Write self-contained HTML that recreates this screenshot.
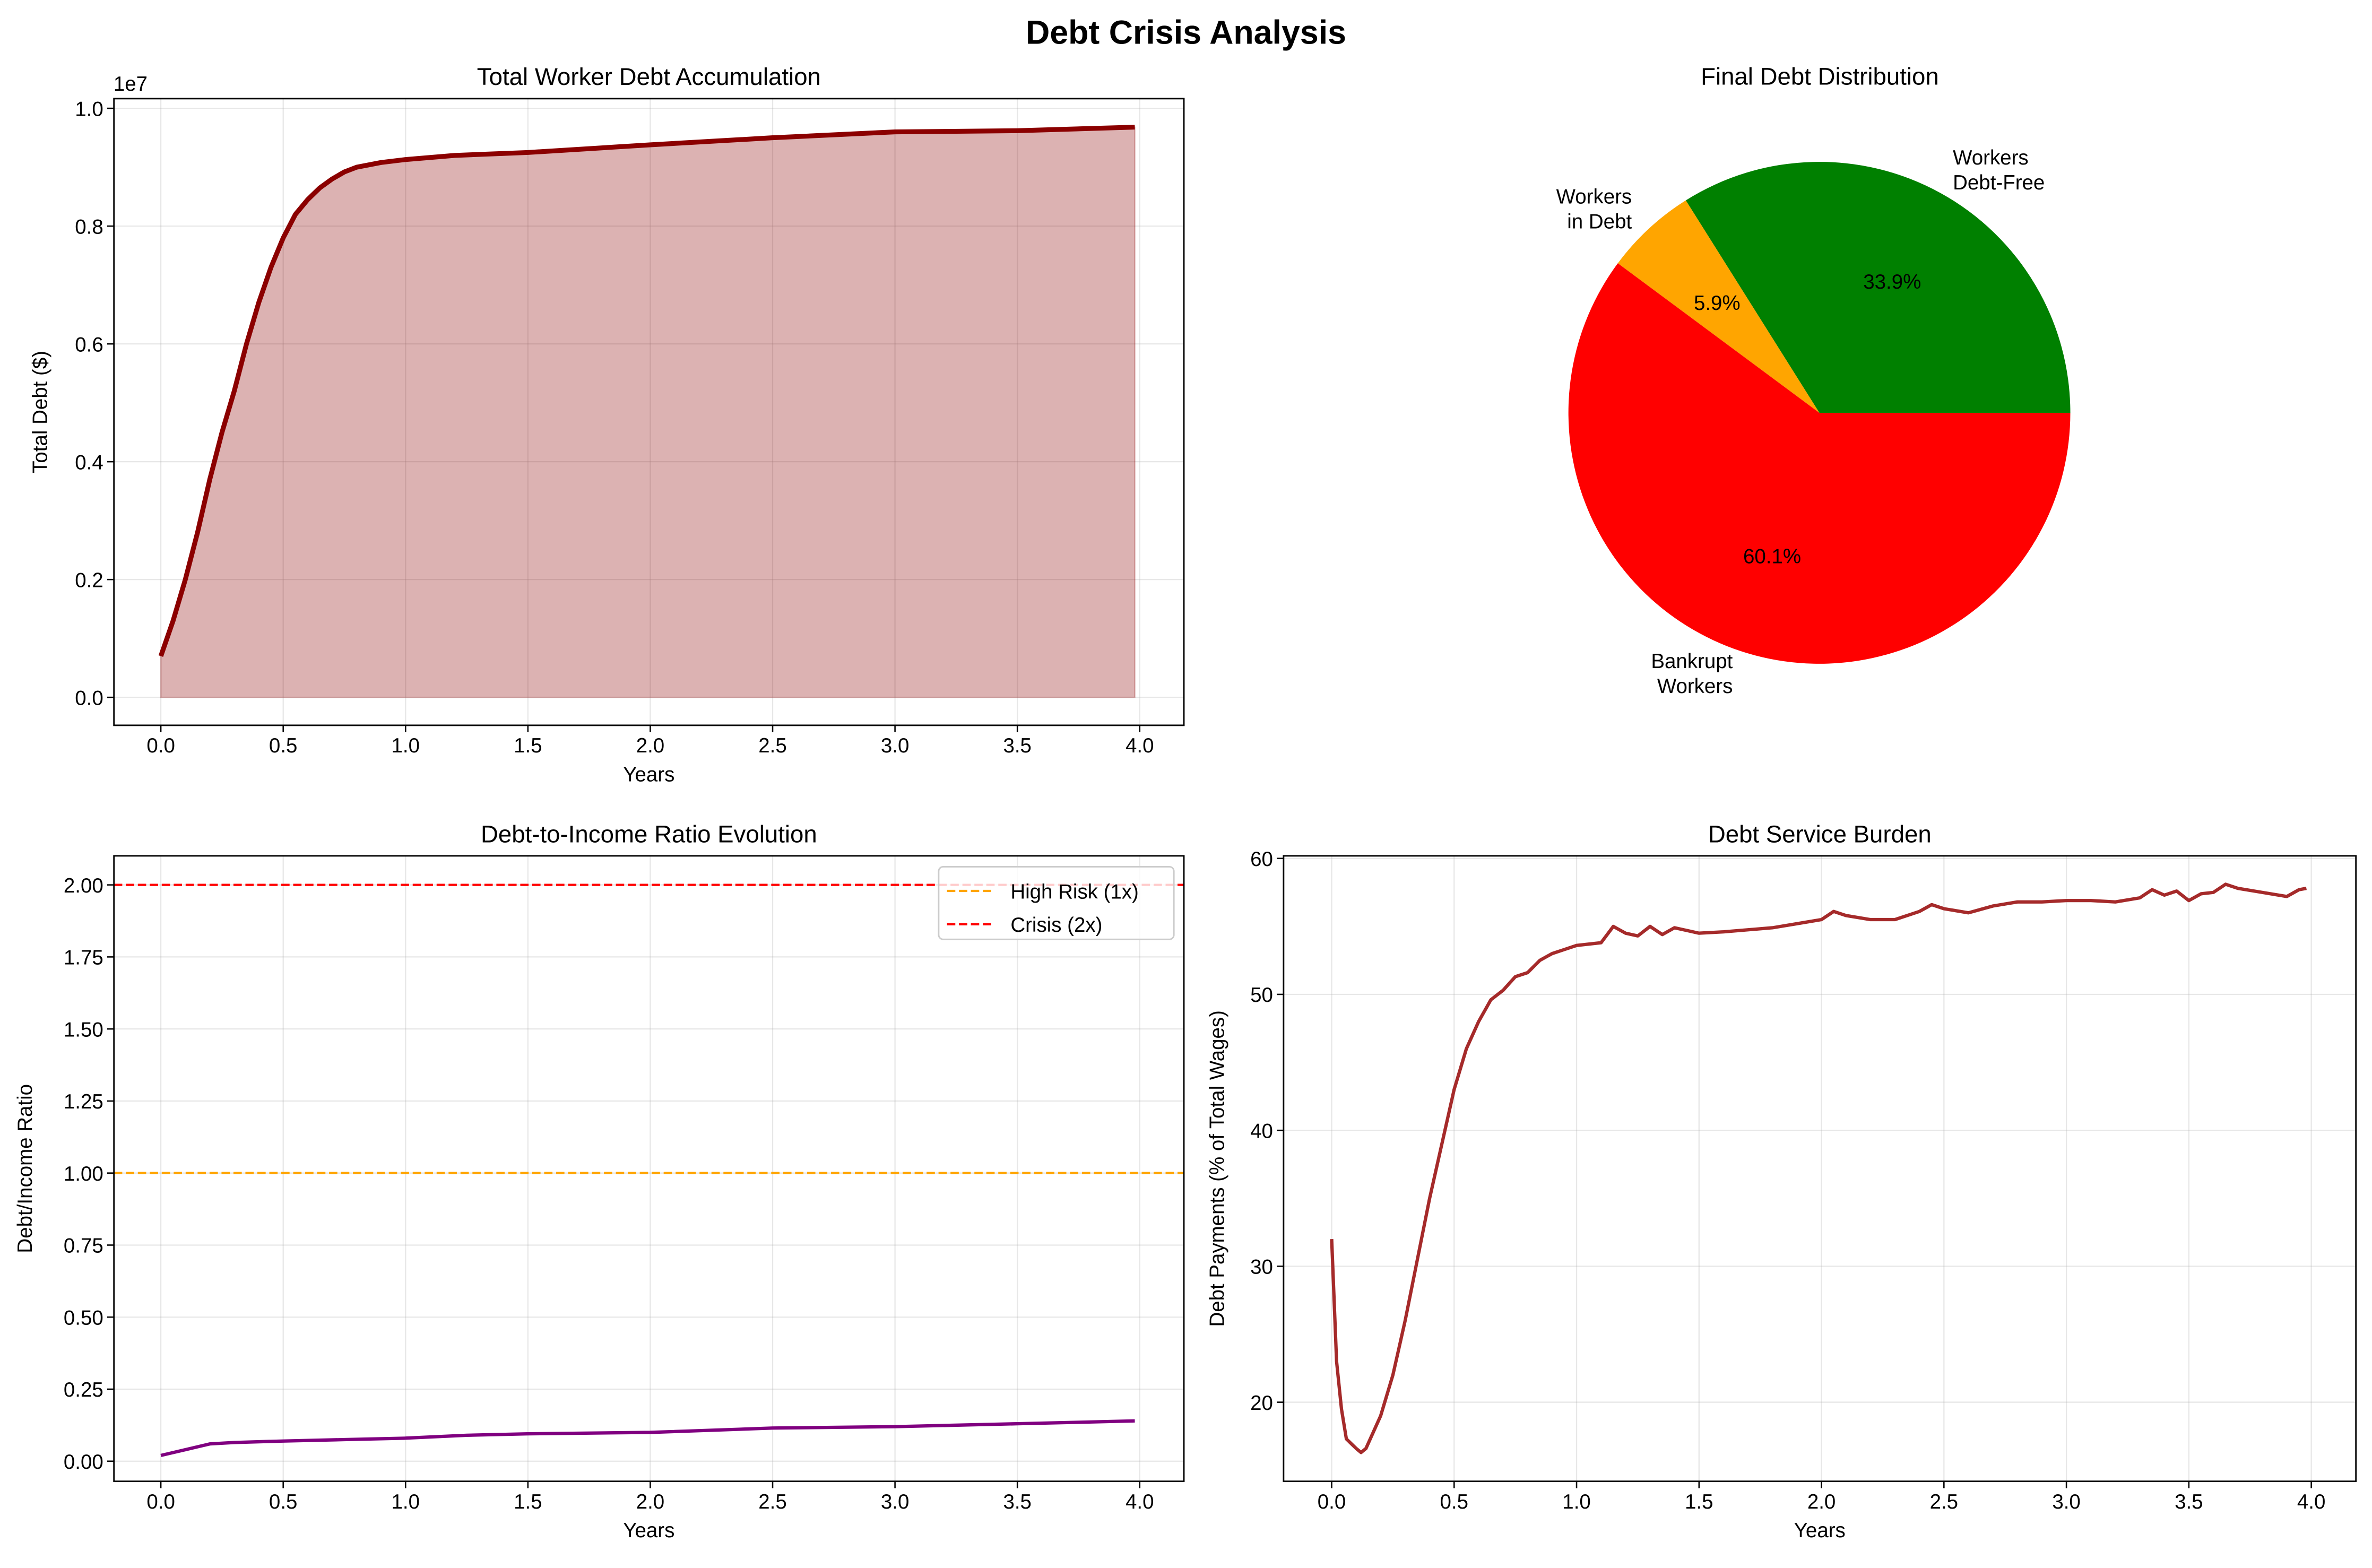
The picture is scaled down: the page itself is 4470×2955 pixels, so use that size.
<!DOCTYPE html>
<html><head><meta charset="utf-8"><style>
html,body{margin:0;padding:0;background:#fff}
svg{display:block}
text{font-family:"Liberation Sans","DejaVu Sans",sans-serif;fill:#000}
</style></head><body>
<svg id="fig" xmlns="http://www.w3.org/2000/svg" width="4470" height="2955" viewBox="0 0 1568 1036.6">
<rect width="1568" height="1036.6" fill="#fff"/>
<text x="784" y="29" text-anchor="middle" font-size="22" font-weight="bold">Debt Crisis Analysis</text>
<g id="tl"></g>
<g id="tr"></g>
<g id="bl"></g>
<g id="br"></g>
</svg>
<script>
// ---- data ----
const debtYears = [0,0.05,0.1,0.15,0.2,0.25,0.3,0.35,0.4,0.45,0.5,0.55,0.6,0.65,0.7,0.75,0.8,0.9,1.0,1.2,1.5,2.0,2.5,3.0,3.5,3.98];
const debtValues = [0.07,0.13,0.2,0.28,0.37,0.45,0.52,0.6,0.67,0.73,0.78,0.82,0.845,0.865,0.88,0.892,0.9,0.908,0.913,0.92,0.925,0.938,0.95,0.96,0.962,0.968];
const pieLabels = ["Workers\nDebt-Free","Workers\nin Debt","Bankrupt\nWorkers"];
const pieShares = [33.9,5.9,60.1];
const pieColors = ["#008000","#FFA500","#FF0000"];
const ratioYears = [0,0.1,0.2,0.3,0.5,0.75,1.0,1.25,1.5,2.0,2.5,3.0,3.5,3.75,3.98];
const ratioValues = [0.02,0.04,0.06,0.065,0.07,0.075,0.08,0.09,0.095,0.1,0.115,0.12,0.13,0.135,0.14];
const thresholdValues = [1,2];
const thresholdLabels = ["High Risk (1x)","Crisis (2x)"];
const serviceYears = [0,0.02,0.04,0.06,0.1,0.12,0.14,0.2,0.25,0.3,0.35,0.4,0.45,0.5,0.55,0.6,0.65,0.7,0.75,0.8,0.85,0.9,0.95,1.0,1.1,1.15,1.2,1.25,1.3,1.35,1.4,1.5,1.6,1.8,1.9,2.0,2.05,2.1,2.2,2.3,2.4,2.45,2.5,2.6,2.7,2.8,2.9,3.0,3.1,3.2,3.3,3.35,3.4,3.45,3.5,3.55,3.6,3.65,3.7,3.8,3.9,3.95,3.98];
const serviceValues = [32,23,19.5,17.3,16.6,16.3,16.6,19,22,26,30.5,35,39,43,46,48,49.6,50.3,51.3,51.6,52.5,53,53.3,53.6,53.8,55,54.5,54.3,55,54.4,54.9,54.5,54.6,54.9,55.2,55.5,56.1,55.8,55.5,55.5,56.1,56.6,56.3,56,56.5,56.8,56.8,56.9,56.9,56.8,57.1,57.7,57.3,57.6,56.9,57.4,57.5,58.1,57.8,57.5,57.2,57.7,57.8];
const xTicks = [0,0.5,1,1.5,2,2.5,3,3.5,4];
const debtTicks = [0,0.2,0.4,0.6,0.8,1.0];
const ratioTicks = [0,0.25,0.5,0.75,1,1.25,1.5,1.75,2];
const serviceTicks = [20,30,40,50,60];

const NS="http://www.w3.org/2000/svg";
function mk(parent,tag,attrs){const e=document.createElementNS(NS,tag);for(const k in attrs)e.setAttribute(k,attrs[k]);parent.appendChild(e);return e;}
function lin(d0,d1,r0,r1){return v=>r0+(v-d0)*(r1-r0)/(d1-d0);}

function axes(g,box,xs,ys,yticks,yfmt,title,ylabel,ylabelX){
  // grid
  xTicks.forEach(t=>{const l=mk(g,'line',{x1:xs(t),x2:xs(t),y1:box.t,y2:box.b,stroke:'#b0b0b0','stroke-opacity':0.3,'stroke-width':0.8});
    
    });
  yticks.forEach(t=>{const l=mk(g,'line',{x1:box.l,x2:box.r,y1:ys(t),y2:ys(t),stroke:'#b0b0b0','stroke-opacity':0.3,'stroke-width':0.8});
    
    });
}
function frame(g,box,xs,ys,yticks,yfmt,title,ylabel,ylabelX){
  const r=mk(g,'rect',{x:box.l,y:box.t,width:box.r-box.l,height:box.b-box.t,fill:'none',stroke:'#000','stroke-width':1});
  
  
  xTicks.forEach(t=>{
    mk(g,'line',{x1:xs(t),x2:xs(t),y1:box.b,y2:box.b+4.5,stroke:'#000','stroke-width':0.9});
    const tx=mk(g,'text',{x:xs(t),y:box.b+18,'text-anchor':'middle','font-size':13.5});
    tx.textContent=t.toFixed(1);
    
    
  });
  yticks.forEach(t=>{
    mk(g,'line',{x1:box.l-4.5,x2:box.l,y1:ys(t),y2:ys(t),stroke:'#000','stroke-width':0.9});
    const tx=mk(g,'text',{x:box.l-7,y:ys(t)+5,'text-anchor':'end','font-size':13.5});
    tx.textContent=yfmt(t);
    
    
  });
  const tt=mk(g,'text',{x:(box.l+box.r)/2,y:box.t-9,'text-anchor':'middle','font-size':16});
  tt.textContent=title;
  
  
  const xl=mk(g,'text',{x:(box.l+box.r)/2,y:box.b+37,'text-anchor':'middle','font-size':13.5});
  xl.textContent='Years';
  
  
  const cy=(box.t+box.b)/2;
  const yl=mk(g,'text',{x:ylabelX,y:cy,'text-anchor':'middle','font-size':13.5,transform:`rotate(-90 ${ylabelX} ${cy})`});
  yl.textContent=ylabel;
  
  
}
function pathD(xsArr,ysArr,xs,ys){return xsArr.map((x,i)=>(i?'L':'M')+xs(x).toFixed(2)+','+ys(ysArr[i]).toFixed(2)).join(' ');}

// ---- top-left ----
(function(){
  const g=document.getElementById('tl');
  const box={l:75.3,r:782.6,t:65.2,b:479.5};
  const xs=lin(0,4,106.3,753.4), ys=lin(0,1,461,71.6);
  axes(g,box,xs,ys,debtTicks);
  const d=pathD(debtYears,debtValues,xs,ys);
  const f=mk(g,'path',{d:d+` L${xs(debtYears[debtYears.length-1])},${ys(0)} L${xs(debtYears[0])},${ys(0)} Z`,fill:'#8B0000','fill-opacity':0.3,stroke:'#8B0000','stroke-opacity':0.3,'stroke-width':0.8});
  
  
  const p=mk(g,'path',{d:d,fill:'none',stroke:'#8B0000','stroke-width':3.2,'stroke-linejoin':'round'});
  
  
  frame(g,box,xs,ys,debtTicks,t=>t.toFixed(1),'Total Worker Debt Accumulation','Total Debt ($)',31);
  const e=mk(g,'text',{x:75,y:60,'font-size':13.5});e.textContent='1e7';
  
  
})();

// ---- pie ----
(function(){
  const g=document.getElementById('tr');
  const cx=1202.7,cy=272.9,R=165.9;
  const tt=mk(g,'text',{x:1203,y:56,'text-anchor':'middle','font-size':16});tt.textContent='Final Debt Distribution';
  
  
  const total=pieShares.reduce((a,b)=>a+b,0);
  let a0=0;
  pieShares.forEach((s,i)=>{
    const a1=a0+s/total*2*Math.PI;
    const x0=cx+R*Math.cos(a0),y0=cy-R*Math.sin(a0),x1=cx+R*Math.cos(a1),y1=cy-R*Math.sin(a1);
    const big=(a1-a0)>Math.PI?1:0;
    const p=mk(g,'path',{d:`M${cx},${cy} L${x0},${y0} A${R},${R} 0 ${big} 0 ${x1},${y1} Z`,fill:pieColors[i]});
    
    
    const am=(a0+a1)/2,ca=Math.cos(am),sa=Math.sin(am);
    const pt=mk(g,'text',{x:cx+0.6*R*ca,y:cy-0.6*R*sa+5,'text-anchor':'middle','font-size':13.5});
    pt.textContent=s.toFixed(1)+'%';
    
    
    const lx=cx+1.1*R*ca,ly=cy-1.1*R*sa;
    const lines=pieLabels[i].split('\n');
    const anchor=ca>=0?'start':'end';
    const lt=mk(g,'text',{x:lx,y:0,'text-anchor':anchor,'font-size':13.5});
    const h=16.5, top=(sa>=0? ly-(lines.length*h)/2 : ly-(lines.length*h)/2)+12;
    lines.forEach((ln,j)=>{const ts=mk(lt,'tspan',{x:lx,y:top+j*h});ts.textContent=ln;});
    
    
    a0=a1;
  });
})();

// ---- bottom-left ----
(function(){
  const g=document.getElementById('bl');
  const box={l:75.3,r:782.6,t:565.8,b:979.3};
  const xs=lin(0,4,106.3,753.4), ys=lin(0,2,966,585);
  axes(g,box,xs,ys,ratioTicks);
  const cols=['#FFA500','#FF0000'];
  thresholdValues.forEach((v,i)=>{
    const l=mk(g,'line',{x1:box.l,x2:box.r,y1:ys(v),y2:ys(v),stroke:cols[i],'stroke-width':1.5,'stroke-dasharray':'5.5,2.4'});
    
    
  });
  const p=mk(g,'path',{d:pathD(ratioYears,ratioValues,xs,ys),fill:'none',stroke:'#800080','stroke-width':2.2,'stroke-linejoin':'round'});
  
  
  frame(g,box,xs,ys,ratioTicks,t=>t.toFixed(2),'Debt-to-Income Ratio Evolution','Debt/Income Ratio',21);
  const lg=mk(g,'g',{});
  
  
  mk(lg,'rect',{x:620.5,y:573,width:155.5,height:48,rx:3,fill:'#fff','fill-opacity':0.8,stroke:'#cccccc','stroke-width':1});
  thresholdLabels.forEach((lab,i)=>{
    const y=589+i*22;
    mk(lg,'line',{x1:626,x2:656,y1:y,y2:y,stroke:cols[i],'stroke-width':1.5,'stroke-dasharray':'5.5,2.4'});
    const t=mk(lg,'text',{x:668,y:y+5,'font-size':13.5});t.textContent=lab;
    
    
  });
})();

// ---- bottom-right ----
(function(){
  const g=document.getElementById('br');
  const box={l:848.5,r:1557.4,t:565.8,b:979.3};
  const xs=lin(0,4,880.3,1527.9), ys=lin(20,60,927,567.5);
  axes(g,box,xs,ys,serviceTicks);
  const p=mk(g,'path',{d:pathD(serviceYears,serviceValues,xs,ys),fill:'none',stroke:'#A52A2A','stroke-width':2.2,'stroke-linejoin':'round'});
  
  
  frame(g,box,xs,ys,serviceTicks,t=>String(t),'Debt Service Burden','Debt Payments (% of Total Wages)',809);
})();
</script>
</body></html>
